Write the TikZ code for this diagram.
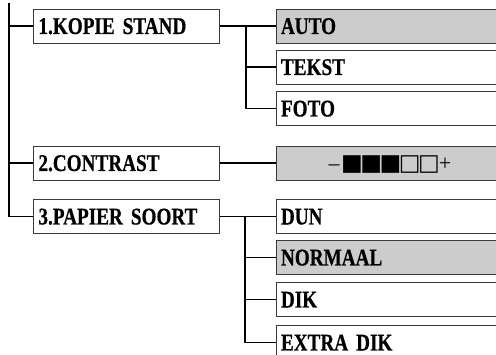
\documentclass[tikz,border=0pt]{standalone}
\usepackage{fontspec}
\setmainfont{Liberation Serif}[FakeStretch=0.8,BoldFeatures={FakeBold=0.5}]
\newfontfamily\plainserif{Liberation Serif}
\newfontfamily\symfont{DejaVu Sans}
\definecolor{boxgray}{HTML}{CCCCCC}
\definecolor{edgegray}{HTML}{3A3A3A}
\begin{document}
\begin{tikzpicture}[x=1pt,y=-1pt,
  menubox/.style={draw=edgegray, line width=0.9pt, anchor=west, inner xsep=5pt, inner ysep=0pt,
    minimum height=34pt, text height=16pt, text depth=0pt, align=left,
    font=\fontsize{24}{27}\selectfont\bfseries},
  leftbox/.style={menubox, text width=176pt},
  rightbox/.style={menubox, text width=212pt},
  sel/.style={fill=boxgray},
  conn/.style={draw=black, line width=1.5pt}]
\useasboundingbox (0,0) rectangle (496,355);
\clip (0,0) rectangle (496,355);
% left column
\node[leftbox] (k1) at (33,26) {1.KOPIE STAND};
\node[leftbox] (k2) at (33,163) {2.CONTRAST};
\node[leftbox] (k3) at (33,216.5) {3.PAPIER SOORT};
% right column
\node[rightbox, sel] (a1) at (275.5,26) {AUTO};
\node[rightbox] (a2) at (275.5,67) {TEKST};
\node[rightbox] (a3) at (275.5,108.5) {FOTO};
\node[menubox, sel, text width=212pt, align=center, font=\fontsize{22}{26}\plainserif] (c1) at (275.5,163)
  {\hspace*{6pt}–\hspace{1.5pt}{\symfont\fontsize{23}{26}\selectfont ■\kern-2.5pt■\kern-2.5pt■\kern-2.5pt□\kern-2.5pt□}\kern-1pt+};
\node[rightbox] (p1) at (275.5,216.5) {DUN};
\node[rightbox, sel] (p2) at (275.5,257.5) {NORMAAL};
\node[rightbox] (p3) at (275.5,299.5) {DIK};
\node[rightbox] (p4) at (275.5,342.5) {EXTRA DIK};
% connectors
\coordinate (top) at (9,3);
\coordinate (j1) at (246,0);
\coordinate (j2) at (245,0);
\draw[conn] (top) |- (k3.west);
\draw[conn] (k1.west -| top) -- (k1.west);
\draw[conn] (k2.west -| top) -- (k2.west);
\draw[conn] (k1.east) -- (a1.west);
\draw[conn] (k1.east -| j1) |- (a3.west);
\draw[conn] (a2.west -| j1) -- (a2.west);
\draw[conn] (k2.east) -- (c1.west);
\draw[conn] (k3.east) -- (p1.west);
\draw[conn] (k3.east -| j2) |- (p4.west);
\draw[conn] (p2.west -| j2) -- (p2.west);
\draw[conn] (p3.west -| j2) -- (p3.west);
\end{tikzpicture}
\end{document}
